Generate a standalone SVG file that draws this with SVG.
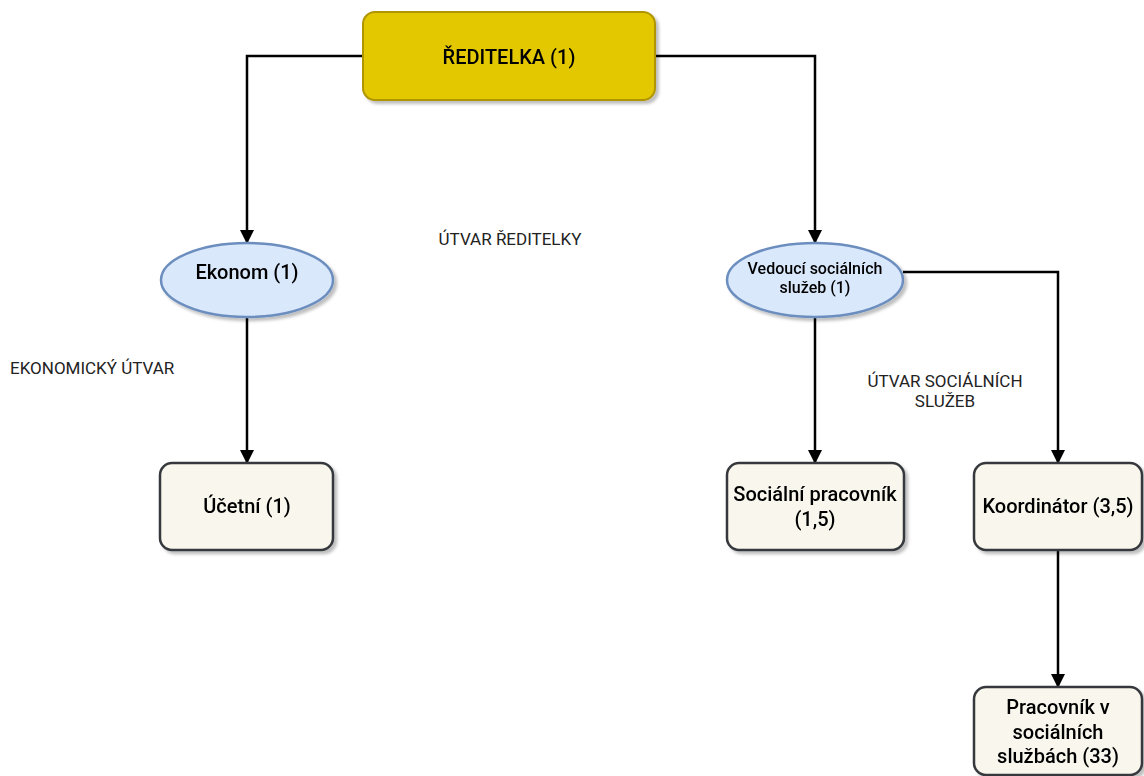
<svg xmlns="http://www.w3.org/2000/svg" width="1144" height="776" viewBox="0 0 1144 776">
<defs>
<filter id="sh" x="-10%" y="-10%" width="130%" height="130%">
<feDropShadow dx="3" dy="3" stdDeviation="1.5" flood-color="#000" flood-opacity="0.25"/>
</filter>
<marker id="arr" markerWidth="14" markerHeight="14" refX="12" refY="7" orient="auto" markerUnits="userSpaceOnUse">
<path d="M0,0 L14,7 L0,14 Z" fill="#000"/>
</marker>
<style>
.t{font-family:Roboto,"Liberation Sans",sans-serif;fill:#000;text-anchor:middle}
.b{font-size:20px;font-weight:500}
.s{font-size:16px;font-weight:500}
.l{font-family:Roboto,"Liberation Sans",sans-serif;font-size:17px;fill:#222}
.box{fill:#f9f7ed;stroke:#36393d;stroke-width:2.5}
.ell{fill:#dae8fc;stroke:#6c8ebf;stroke-width:2.5}
.c{fill:none;stroke:#000;stroke-width:2.5;marker-end:url(#arr)}
</style>
</defs>
<rect width="1144" height="776" fill="#fff"/>
<g id="connectors">
<path class="c" d="M363,56 L247,56 L247,242"/>
<path class="c" d="M655,56 L815,56 L815,242"/>
<path class="c" d="M247,317 L247,462"/>
<path class="c" d="M815,317 L815,462"/>
<path class="c" d="M903,272 L1058,272 L1058,462"/>
<path class="c" d="M1058,550 L1058,686"/>
</g>
<g id="reditelka" filter="url(#sh)">
<rect x="363" y="12" width="292" height="88" rx="12" fill="#e3c800" stroke="#b09500" stroke-width="2"/>
<text class="t b" x="509" y="64">ŘEDITELKA (1)</text>
</g>
<g id="ekonom" filter="url(#sh)">
<ellipse class="ell" cx="247" cy="280" rx="86" ry="37"/>
<text class="t b" x="247" y="279">Ekonom (1)</text>
</g>
<g id="vedouci" filter="url(#sh)">
<ellipse class="ell" cx="815" cy="280" rx="88" ry="37"/>
<text class="t s" x="815" y="274">Vedoucí sociálních</text>
<text class="t s" x="815" y="293">služeb (1)</text>
</g>
<g id="ucetni" filter="url(#sh)">
<rect class="box" x="160" y="463" width="173" height="87" rx="12"/>
<text class="t b" x="247" y="513">Účetní (1)</text>
</g>
<g id="socialni" filter="url(#sh)">
<rect class="box" x="727" y="463" width="177" height="87" rx="12"/>
<text class="t b" x="815" y="501">Sociální pracovník</text>
<text class="t b" x="815" y="526">(1,5)</text>
</g>
<g id="koordinator" filter="url(#sh)">
<rect class="box" x="974" y="463" width="168" height="87" rx="12"/>
<text class="t b" x="1058" y="513">Koordinátor (3,5)</text>
</g>
<g id="pracovnik" filter="url(#sh)">
<rect class="box" x="974" y="687" width="168" height="88" rx="12"/>
<text class="t b" x="1058" y="714">Pracovník v</text>
<text class="t b" x="1058" y="739">sociálních</text>
<text class="t b" x="1058" y="763">službách (33)</text>
</g>
<g id="labels">
<text class="l" x="10" y="374">EKONOMICKÝ ÚTVAR</text>
<text class="l" x="510" y="245" text-anchor="middle">ÚTVAR ŘEDITELKY</text>
<text class="l" x="945" y="387" text-anchor="middle">ÚTVAR SOCIÁLNÍCH</text>
<text class="l" x="945" y="407" text-anchor="middle">SLUŽEB</text>
</g>
</svg>
